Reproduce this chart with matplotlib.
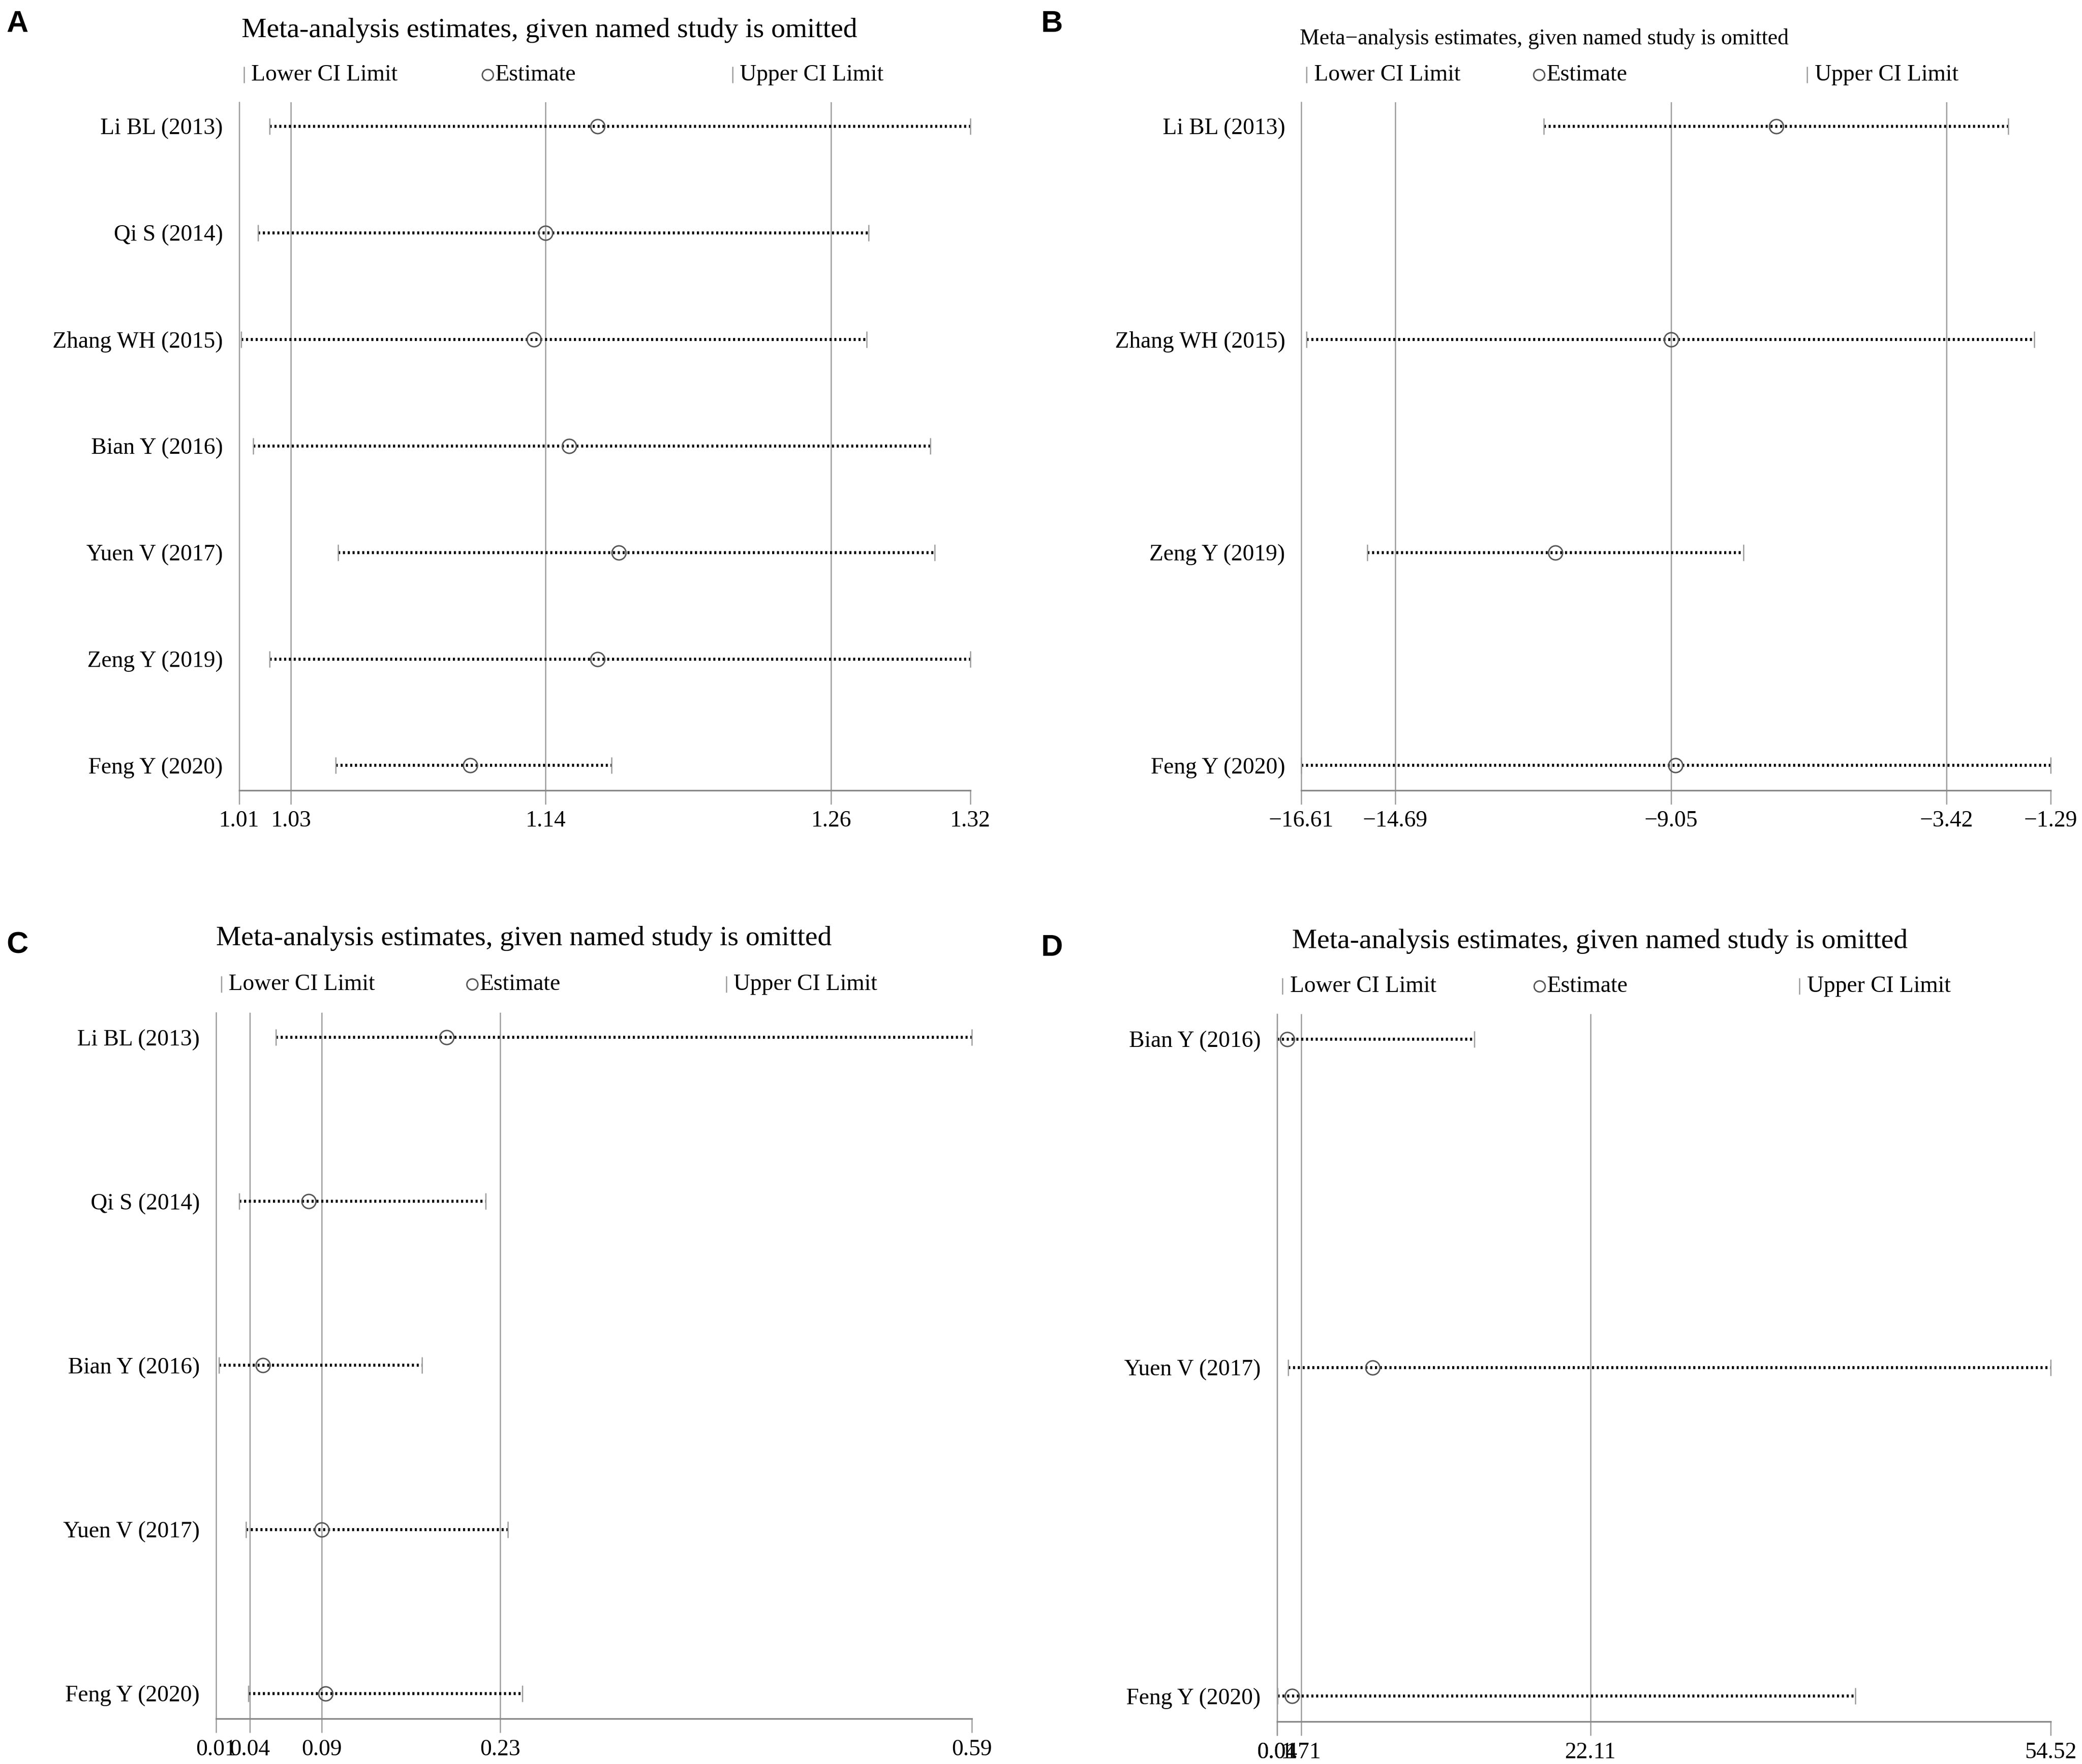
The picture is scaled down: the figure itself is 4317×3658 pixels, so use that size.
import matplotlib.pyplot as plt

plt.rcParams['font.family'] = ['Liberation Serif', 'DejaVu Serif']

# ---- data ----
a_studies = ['Li BL (2013)', 'Qi S (2014)', 'Zhang WH (2015)', 'Bian Y (2016)',
             'Yuen V (2017)', 'Zeng Y (2019)', 'Feng Y (2020)']
a_lower = [1.023, 1.018, 1.011, 1.016, 1.052, 1.023, 1.051]
a_est = [1.162, 1.140, 1.135, 1.150, 1.171, 1.162, 1.108]
a_upper = [1.320, 1.277, 1.276, 1.303, 1.305, 1.320, 1.168]
a_overall = [1.032, 1.140, 1.261]   # lower CI, estimate, upper CI
a_range = [1.01, 1.32]

b_studies = ['Li BL (2013)', 'Zhang WH (2015)', 'Zeng Y (2019)', 'Feng Y (2020)']
b_lower = [-11.65, -16.50, -15.26, -16.61]
b_est = [-6.90, -9.05, -11.42, -8.96]
b_upper = [-2.16, -1.63, -7.57, -1.29]
b_overall = [-14.69, -9.05, -3.42]
b_range = [-16.61, -1.29]

c_studies = ['Li BL (2013)', 'Qi S (2014)', 'Bian Y (2016)', 'Yuen V (2017)', 'Feng Y (2020)']
c_lower = [0.056, 0.028, 0.0125, 0.033, 0.035]
c_est = [0.187, 0.081, 0.046, 0.091, 0.094]
c_upper = [0.590, 0.217, 0.168, 0.234, 0.245]
c_overall = [0.036, 0.091, 0.228]
c_range = [0.01, 0.59]

d_studies = ['Bian Y (2016)', 'Yuen V (2017)', 'Feng Y (2020)']
d_lower = [0.01, 0.82, 0.05]
d_est = [0.72, 6.75, 1.09]
d_upper = [13.93, 54.52, 40.77]
d_overall = [0.04, 1.71, 22.11]
d_range = [0.01, 54.52]

title_text = 'Meta-analysis estimates, given named study is omitted'
grey = '#9a9a9a'

fig = plt.figure(figsize=(4317 / 300, 3658 / 300), dpi=300)


def draw_panel(rect, studies, lower, est, upper, overall, xrange_, est_leg_x=0.335):
    ax = fig.add_axes(rect)
    n = len(studies)
    ys = list(range(n - 1, -1, -1))
    span = (n - 1) / (0.965 - 0.036)
    ax.set_ylim(-0.036 * span, -0.036 * span + span)
    ax.set_xlim(xrange_[0], xrange_[1])

    for x in overall:
        ax.axvline(x, color=grey, lw=0.6, zorder=1)

    for y, lo, e, hi in zip(ys, lower, est, upper):
        # dotted CI line, grey caps, open circle for the estimate
        ax.plot([lo, hi], [y, y], color='black', lw=1.5, ls=(0, (0.7, 0.9)),
                dash_capstyle='butt', zorder=2)
        ax.plot([lo, hi], [y, y], ls='none', marker='|', ms=8, mec=grey,
                mew=0.6, zorder=3, clip_on=False)
        ax.plot(e, y, marker='o', ms=7, mfc='none', mec='#555555', mew=0.7,
                zorder=4)

    ticks = [xrange_[0]] + list(overall) + [xrange_[1]]
    labels = [f'{t:.2f}'.replace('-', '\u2212') for t in ticks]
    ax.set_xticks(ticks, labels)
    ax.tick_params(axis='x', direction='out', length=7, width=0.6, color=grey,
                   labelsize=11.5, pad=3)
    ax.set_yticks(ys, studies)
    ax.tick_params(axis='y', length=0, pad=8, labelsize=11.5)

    for s in ['top', 'right']:
        ax.spines[s].set_visible(False)
    ax.spines['left'].set_color(grey)
    ax.spines['left'].set_linewidth(0.6)
    ax.spines['bottom'].set_color('#888888')
    ax.spines['bottom'].set_linewidth(0.8)

    # legend row above the plot
    ly = 1.04
    ax.plot(0.007, ly, marker='|', ms=8, mec=grey, mew=0.6,
            transform=ax.transAxes, clip_on=False)
    ax.text(0.017, ly, 'Lower CI Limit', transform=ax.transAxes,
            ha='left', va='center', fontsize=11.5)
    ax.plot(est_leg_x, ly, marker='o', ms=5.5, mfc='none', mec='#555555',
            mew=0.7, transform=ax.transAxes, clip_on=False)
    ax.text(est_leg_x + 0.01, ly, 'Estimate', transform=ax.transAxes,
            ha='left', va='center', fontsize=11.5)
    ax.plot(0.675, ly, marker='|', ms=8, mec=grey, mew=0.6,
            transform=ax.transAxes, clip_on=False)
    ax.text(0.685, ly, 'Upper CI Limit', transform=ax.transAxes,
            ha='left', va='center', fontsize=11.5)
    return ax


draw_panel([0.1148, 0.552, 0.3512, 0.390], a_studies, a_lower, a_est, a_upper,
           a_overall, a_range, est_leg_x=0.340)
draw_panel([0.625, 0.552, 0.36, 0.390], b_studies, b_lower, b_est, b_upper,
           b_overall, b_range, est_leg_x=0.317)
draw_panel([0.1037, 0.0256, 0.3631, 0.4003], c_studies, c_lower, c_est, c_upper,
           c_overall, c_range, est_leg_x=0.339)
draw_panel([0.6133, 0.024, 0.3717, 0.401], d_studies, d_lower, d_est, d_upper,
           d_overall, d_range, est_leg_x=0.339)

# panel titles
fig.text(0.264, 0.9828, title_text, ha='center', va='center', fontsize=14)
fig.text(0.7418, 0.978, title_text.replace('-', '\u2212'), ha='center',
         va='center', fontsize=11)
fig.text(0.2516, 0.468, title_text, ha='center', va='center', fontsize=14)
fig.text(0.7684, 0.4664, title_text, ha='center', va='center', fontsize=14)

# panel letters
for letter, x, y in [('A', 0.003, 0.9865), ('B', 0.5, 0.9865),
                     ('C', 0.003, 0.4643), ('D', 0.5, 0.4628)]:
    fig.text(x, y, letter, ha='left', va='center', fontsize=15,
             fontweight='bold', family=['Liberation Sans', 'DejaVu Sans'])

fig.savefig('out.png', dpi=300, facecolor='white')
